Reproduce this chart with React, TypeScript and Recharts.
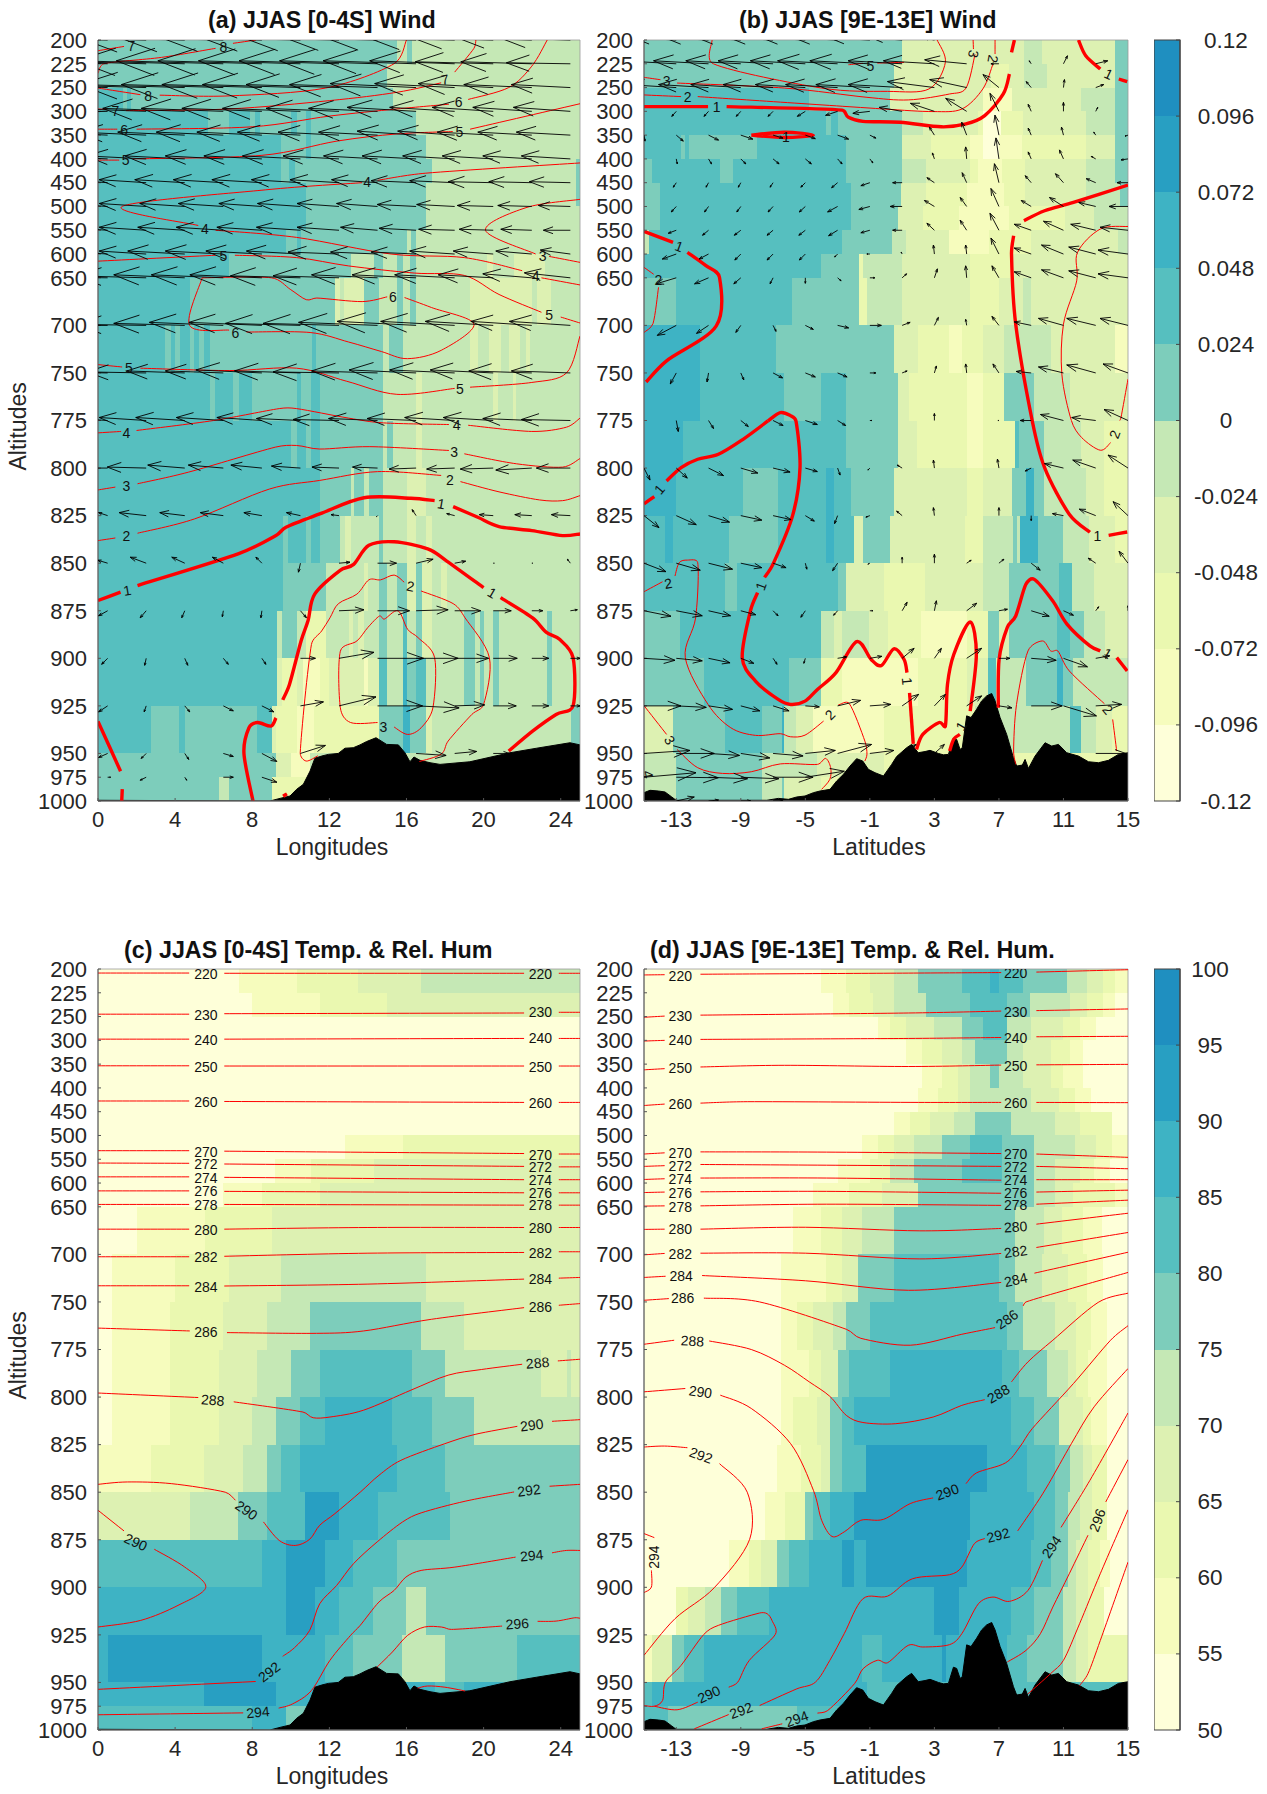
import { Area, ComposedChart, Line, ReferenceArea, Scatter, XAxis, YAxis } from 'recharts';

const FONT = '"Liberation Sans", Arial, sans-serif';
const palette = ['#feffd9', '#f6fcbd', '#eaf8b0', '#ddf1b2', '#c5e8b5', '#7dcdbb', '#56bfbf', '#3eb3c4', '#289fc2', '#1f8fc0'];

// pressure levels sit on an uneven index axis
const levels = [200, 225, 250, 300, 350, 400, 450, 500, 550, 600, 650, 700, 750, 775, 800, 825, 850, 875, 900, 925, 950, 975, 1000];
const levelPos = [0, 1, 2, 3, 4, 5, 6, 7, 8, 9, 10, 12, 14, 16, 18, 20, 22, 24, 26, 28, 30, 31, 32];

const lonTicks = [0, 4, 8, 12, 16, 20, 24];
const latTicks = [-13, -9, -5, -1, 3, 7, 11, 15];
const windBarLabels = ['-0.12', '-0.096', '-0.072', '-0.048', '-0.024', '0', '0.024', '0.048', '0.072', '0.096', '0.12'];
const humBarLabels = ['50', '55', '60', '65', '70', '75', '80', '85', '90', '95', '100'];

// shaded cells, one row per level band: xEnd, class, xEnd, class ...
const heatA = [
  [15.5, 5, 16.05, 4, 16.3, 5, 25, 4],
  [15, 5, 25, 4],
  [1.3, 6, 1.5, 5, 1.7, 6, 15.3, 5, 25, 4],
  [5.7, 6, 6.8, 5, 7.9, 6, 8.15, 5, 8.4, 6, 10, 5, 10.3, 6, 10.8, 5, 11.05, 6, 16.5, 5, 25, 4],
  [9.5, 6, 10.8, 5, 11.05, 6, 17, 5, 25, 4],
  [9.5, 6, 9.9, 5, 10.2, 6, 17.3, 5, 24.8, 4, 25, 5],
  [10.8, 6, 17, 5, 24.8, 4, 25, 5],
  [10.8, 6, 17, 5, 25, 4],
  [9.75, 6, 10.3, 5, 10.55, 6, 16.05, 5, 16.25, 4, 16.5, 5, 25, 4],
  [6.8, 6, 13.1, 5, 14.3, 4, 14.8, 5, 15.5, 4, 15.8, 5, 16.2, 4, 16.5, 5, 20.2, 4, 20.5, 3, 21.6, 4, 23.2, 3, 23.5, 4, 25, 4],
  [4.75, 6, 12.3, 5, 12.55, 3, 12.75, 4, 13.8, 3, 14.6, 5, 15.5, 4, 15.8, 5, 16.2, 4, 16.5, 5, 19.3, 4, 22.5, 3, 22.75, 4, 23.5, 3, 25, 4],
  [3.5, 6, 3.8, 5, 4, 6, 4.25, 5, 4.75, 6, 5, 5, 5.25, 6, 5.5, 5, 5.8, 6, 11.1, 5, 11.3, 6, 14.8, 5, 15.1, 4, 15.8, 5, 19.3, 4, 19.7, 3, 20.3, 4, 20.9, 3, 21.3, 4, 21.9, 3, 22.2, 4, 22.4, 3, 25, 4],
  [5.8, 6, 6.05, 5, 7, 6, 7.3, 5, 8, 6, 10.3, 5, 10.55, 6, 11.05, 5, 11.5, 6, 14.8, 5, 16.5, 4, 16.8, 3, 20.5, 4, 20.75, 3, 21.5, 4, 21.7, 3, 25, 4],
  [10, 6, 10.3, 5, 10.8, 6, 11.05, 5, 11.5, 6, 14.8, 5, 15, 4, 15.3, 5, 16.5, 4, 16.8, 3, 25, 4],
  [11.5, 6, 13.1, 5, 13.3, 4, 13.8, 5, 14.05, 4, 14.8, 5, 16.05, 4, 17, 3, 25, 4],
  [9.6, 6, 9.85, 5, 10.8, 6, 11.05, 5, 11.5, 6, 12.55, 5, 12.8, 4, 13.1, 3, 14.6, 4, 14.8, 5, 16.05, 4, 16.5, 3, 17, 4, 17.3, 3, 25, 4],
  [9.6, 6, 11.8, 5, 13.8, 4, 14, 3, 14.6, 4, 15, 5, 15.5, 4, 16.05, 5, 16.5, 3, 16.8, 5, 17.3, 3, 17.8, 4, 18.1, 3, 25, 4],
  [9.3, 6, 9.55, 4, 10.3, 5, 10.8, 4, 11.8, 2, 13, 4, 13.25, 3, 13.5, 4, 13.8, 3, 14.6, 4, 15, 5, 15.8, 4, 16.05, 6, 16.5, 4, 16.8, 5, 17.3, 3, 19, 4, 19.55, 5, 19.8, 4, 20, 5, 20.5, 4, 20.8, 5, 23.3, 4, 23.55, 5, 25, 4],
  [9.3, 6, 9.55, 3, 10.3, 2, 10.65, 3, 11.5, 1, 12, 2, 13.8, 3, 14, 1, 14.6, 3, 15, 6, 15.8, 4, 16.05, 7, 16.5, 5, 17, 6, 19, 4, 19.55, 5, 19.8, 4, 20, 5, 20.5, 4, 20.8, 5, 23.3, 4, 23.55, 5, 25, 4],
  [2.75, 6, 4.2, 5, 4.5, 6, 8.25, 5, 9, 6, 9.25, 3, 10.3, 2, 11.2, 1, 14.6, 2, 15.8, 5, 16.2, 7, 17, 5, 17.3, 3, 24.55, 4, 25, 5],
  [9.25, 5, 10, 3, 11, 1, 25, 4],
  [6.25, 5, 6.8, 4, 9, 5, 11, 2, 25, 4],
];
const heatB = [
  [1, 5, 8.55, 3, 9.7, 4, 14.2, 3, 15, 5],
  [0.5, 5, 6.5, 3, 7.6, 2, 8.55, 3, 10, 4, 14.2, 3, 15, 5],
  [-4.75, 6, 0.25, 5, 6, 3, 7.8, 1, 12.1, 3, 14.2, 4, 15, 5],
  [-3.7, 6, -3.4, 5, -3, 6, 1, 5, 2.3, 4, 5.7, 3, 6, 2, 7.1, 0, 8.5, 2, 12.4, 3, 14.2, 4, 15, 5],
  [-12.7, 6, -12.45, 5, -12.2, 6, -8, 5, -2.5, 6, 1, 5, 2.8, 3, 5.2, 2, 6, 1, 7, 0, 8.4, 1, 12.4, 2, 14.2, 3, 15, 5],
  [-14.5, 5, -10.3, 6, -9.5, 5, -2.5, 6, 1, 5, 2.5, 4, 5.2, 3, 5.7, 2, 7.2, 1, 8.6, 2, 12.4, 3, 14.2, 4, 15, 5],
  [-14, 5, -2.2, 6, 0.9, 5, 2.5, 3, 5, 2, 7.3, 1, 8.6, 2, 12.4, 3, 14.5, 4, 15, 5],
  [-14, 5, -2.2, 6, 0.75, 5, 2.3, 3, 4.5, 2, 7.65, 1, 11.1, 2, 12.9, 3, 15, 4],
  [-14.7, 4, -2.7, 6, 0.35, 5, 1.25, 4, 3.9, 3, 6.4, 1, 9, 2, 14.4, 3, 15, 4],
  [-4, 6, -1.7, 5, -1.4, 2, 1, 4, 5.2, 3, 7.8, 2, 15, 3],
  [-13, 5, -5.8, 6, -1.7, 5, -1.2, 2, 1, 4, 5.2, 3, 7, 2, 8.5, 3, 9, 4, 15, 3],
  [-11.55, 7, -6.8, 6, 0.5, 5, 2, 3, 3.9, 2, 4.7, 1, 6, 2, 7.3, 3, 10.2, 4, 14.2, 3, 15, 1],
  [-11.5, 7, -6.3, 6, -4, 5, -2.5, 6, 0.75, 5, 1.4, 3, 5, 2, 6, 1, 7.3, 2, 9.2, 5, 11.4, 4, 15, 3],
  [-12.6, 7, -2.45, 6, 0.75, 5, 1.9, 3, 5, 2, 6, 1, 8, 2, 8.25, 6, 9.8, 5, 12.1, 4, 13.5, 3, 15, 2],
  [-13, 7, -8.85, 6, -6.7, 5, -3.7, 6, -3.2, 7, -2.2, 6, 0.5, 5, 5, 3, 6, 2, 7.8, 3, 8.7, 5, 9.2, 7, 9.8, 5, 12.4, 4, 13.5, 3, 15, 2],
  [-13.7, 6, -13.2, 7, -9.75, 6, -6.7, 5, -3.7, 6, -3.2, 7, -2, 6, -1.4, 3, 0.23, 5, 4.9, 3, 6, 2, 7.9, 4, 8.15, 5, 8.3, 4, 9.45, 7, 11, 5, 12.6, 4, 14.2, 3, 15, 2],
  [-10, 6, -9.25, 5, -3, 6, -2.5, 5, -0.15, 3, 2.4, 2, 6, 3, 7.65, 4, 10.7, 5, 11.5, 6, 12.9, 4, 15, 3],
  [-12.75, 5, -4, 6, -3.2, 4, -2.7, 3, -1.05, 4, 0.1, 3, 2.15, 2, 5, 1, 6.3, 2, 7, 5, 7.65, 3, 10.6, 5, 11.4, 6, 12.3, 5, 13.6, 4, 15, 3],
  [-11.3, 5, -6, 6, -4, 5, -2.7, 2, 2, 1, 5, 2, 6.3, 3, 6.8, 6, 7, 3, 8.7, 4, 10.6, 5, 11, 7, 11.6, 5, 15, 4],
  [-13.2, 3, -10, 5, -7.7, 6, -6.45, 5, -6.3, 7, -5.6, 4, -4.5, 3, -0.15, 1, 5.5, 2, 11.4, 4, 12.1, 6, 13, 4, 14, 3, 15, 2],
  [-13, 4, -7.7, 5, -4.25, 4, -0.15, 3, 15, 2],
  [-13, 4, -7.7, 5, -6.45, 4, -6.3, 5, -4, 3, 15, 2],
];
const heatC = [
  [7.3, 0, 10.3, 1, 13.5, 2, 16.75, 3, 25, 4],
  [8, 0, 11.5, 1, 15, 2, 25, 3],
  [25, 0],
  [25, 0],
  [25, 0],
  [25, 0],
  [25, 0],
  [12.8, 0, 15.8, 1, 25, 2],
  [9.2, 0, 11.05, 1, 14.3, 2, 25, 3],
  [6.5, 0, 8.5, 1, 11.5, 2, 25, 3],
  [2, 0, 5.55, 1, 9.05, 2, 25, 3],
  [0.75, 0, 4, 1, 6.8, 2, 9.5, 3, 17, 4, 25, 3],
  [0.75, 0, 3.75, 1, 6.5, 2, 8.75, 3, 11, 4, 16.75, 5, 19, 4, 25, 3],
  [0.75, 0, 3.75, 1, 6.25, 2, 8.25, 3, 10, 4, 11.5, 5, 16.3, 6, 18, 5, 23, 4, 24.3, 3, 24.55, 4, 25, 3],
  [0.75, 0, 3.75, 1, 6.25, 2, 8, 3, 9.25, 4, 10.5, 5, 11.75, 6, 15.25, 7, 17.3, 6, 19.5, 5, 25, 4],
  [2.75, 1, 5.5, 2, 7.5, 3, 8.75, 4, 9.5, 5, 10.5, 6, 15.5, 7, 18, 6, 25, 5],
  [4.75, 3, 7.25, 4, 8.75, 5, 10.75, 6, 12.5, 8, 14.5, 7, 18.25, 6, 25, 5],
  [8.5, 6, 9.75, 7, 11.75, 8, 13.25, 7, 15.5, 6, 25, 5],
  [9.75, 7, 11.25, 8, 12.5, 7, 14.25, 6, 16, 5, 17, 4, 25, 5],
  [0.5, 7, 8.5, 8, 11.75, 7, 13.25, 6, 15.75, 5, 18, 4, 21.75, 5, 25, 6],
  [5.5, 7, 9.25, 8, 17.5, 7, 19, 6, 21, 7, 25, 6],
  [8, 6, 9.75, 7, 25, 5],
];
const heatD = [
  [-4, 0, -2.5, 1, -1, 2, 0.5, 3, 2, 4, 4.7, 5, 6.45, 6, 7, 7, 8.5, 6, 11.2, 5, 12.45, 4, 13.45, 3, 14.2, 2, 15, 1],
  [-3.3, 0, -2.3, 1, -0.8, 2, 0.5, 3, 2.5, 4, 5.2, 5, 7.5, 6, 8.9, 5, 11.4, 4, 12.45, 3, 13.45, 2, 14.2, 1, 15, 0],
  [-0.5, 0, 0.25, 1, 1.25, 2, 3, 3, 4.7, 4, 6, 5, 7.5, 6, 9, 4, 11, 3, 12, 2, 13, 1, 15, 0],
  [1.25, 0, 2.25, 1, 3.5, 2, 4.7, 3, 5.5, 4, 7.5, 5, 8.5, 4, 10.2, 3, 11.4, 2, 12.2, 1, 15, 0],
  [2.25, 0, 3.5, 1, 4.45, 2, 5.2, 3, 6.45, 4, 7, 5, 8.5, 4, 10.2, 3, 11, 2, 12.2, 1, 15, 0],
  [2, 0, 3.25, 1, 4.45, 2, 5.2, 3, 9, 4, 10.7, 3, 11.7, 2, 12.7, 1, 15, 0],
  [0.5, 0, 1.5, 1, 2.75, 2, 4.2, 3, 5.5, 4, 7.75, 5, 10.45, 4, 12, 3, 14, 2, 15, 0],
  [-1.5, 0, -0.5, 1, 0.5, 2, 1.75, 3, 3.5, 4, 5.2, 5, 7.2, 6, 9.2, 5, 11.7, 4, 13, 3, 14, 2, 15, 1],
  [-3, 0, -1, 1, 0.25, 2, 1.75, 4, 4.7, 5, 7.2, 6, 9.2, 5, 10.45, 4, 12, 3, 12.9, 2, 13.9, 1, 15, 0],
  [-4.5, 0, -2.3, 1, -0.25, 2, 2, 3, 9.2, 5, 10.45, 4, 11.6, 3, 14.2, 2, 15, 1],
  [-5.75, 0, -4, 1, -2.75, 2, -1.5, 3, 0.5, 4, 8, 5, 9.8, 4, 10.9, 3, 12.2, 2, 13.4, 1, 15, 0],
  [-6.5, 0, -3.75, 1, -2.75, 2, -1.75, 3, 0.5, 5, 7, 6, 8, 5, 9.7, 4, 11.25, 3, 12.45, 2, 13.45, 1, 15, 0],
  [-6.5, 0, -5.5, 1, -4.5, 2, -3.3, 3, -2.5, 4, -1, 5, 7.5, 6, 8.5, 5, 10.45, 4, 11.75, 3, 12.7, 2, 13.7, 1, 15, 0],
  [-6.5, 0, -4.75, 1, -4, 2, -3, 3, -2.3, 5, 0.25, 6, 7.2, 7, 8.25, 6, 10, 5, 11.25, 4, 11.75, 3, 12.5, 2, 13.7, 1, 15, 0],
  [-6.5, 0, -5.75, 1, -4.25, 2, -3.5, 3, -2.75, 5, -2, 6, 7.75, 7, 9.2, 6, 10.7, 5, 12.2, 3, 12.7, 2, 13.7, 1, 15, 0],
  [-6.75, 0, -5.25, 1, -4, 2, -3.5, 3, -2.75, 5, -1.25, 6, 6.25, 8, 8.75, 7, 10.45, 6, 11.4, 5, 12.2, 4, 12.75, 3, 13.7, 2, 15, 0],
  [-7.5, 0, -6.25, 1, -5, 2, -4.5, 5, -3.5, 6, -2, 7, 5.2, 8, 9.2, 7, 10.45, 6, 11.25, 5, 12, 4, 12.75, 3, 13.7, 2, 15, 0],
  [-9.75, 0, -8.5, 1, -7.75, 2, -6.75, 3, -6, 5, -4.75, 6, -2.75, 7, -2, 8, -1.25, 7, 5, 8, 9, 7, 10.2, 6, 11.25, 5, 11.75, 4, 12.5, 3, 13.25, 2, 13.9, 1, 15, 0],
  [-13, 0, -12.25, 2, -11.25, 3, -10.25, 4, -9.25, 5, -7.25, 6, 3, 7, 4.5, 8, 7.75, 7, 9.2, 6, 11, 5, 11.75, 4, 12.5, 3, 13.5, 2, 15, 0],
  [-14.5, 1, -13.25, 3, -12.5, 5, -11.25, 6, -1.5, 7, -0.25, 6, 3.5, 7, 3.7, 8, 7.5, 7, 8.75, 6, 11, 5, 11.75, 4, 12.5, 3, 15, 2],
  [-14.5, 6, -13.5, 7, -1.2, 7, 15, 6],
  [-13.5, 6, -5.5, 5, 15, 6],
];

// ground profile, level position per longitude / latitude
const terrainLonX = [0, 8.92, 9.44, 9.96, 10.3, 10.65, 11, 11.25, 11.6, 11.95, 12.46, 12.81, 13.24, 13.59, 13.93, 14.42, 14.97, 15.58, 15.92, 16.18, 16.39, 16.7, 17.22, 17.74, 19.29, 21.37, 22.75, 24.48, 25];
const terrainLonY = [31.97, 32, 31.89, 31.79, 31.51, 31.3, 30.74, 30.2, 30.11, 30.04, 30, 29.78, 29.76, 29.64, 29.5, 29.34, 29.62, 29.64, 29.97, 30.35, 30.15, 30.29, 30.39, 30.46, 30.35, 29.97, 29.78, 29.55, 29.64];
const terrainLatX = [-15, -14.63, -14.11, -13.7, -13.28, -13.01, -7.39, -6.67, -6.05, -5.53, -5.02, -4.5, -4.09, -3.47, -3.06, -2.64, -2.23, -1.82, -1.44, -1.09, -0.68, -0.16, 0.35, 0.66, 1.28, 1.59, 2, 2.42, 2.73, 3.25, 3.56, 3.87, 4.18, 4.38, 4.59, 4.73, 5, 5.27, 5.62, 5.93, 6.24, 6.55, 6.76, 7.07, 7.48, 7.9, 8.1, 8.45, 8.62, 8.83, 9.24, 9.86, 10.27, 10.69, 11.2, 11.93, 12.55, 13.17, 13.79, 14.41, 15];
const terrainLatY = [31.65, 31.55, 31.58, 31.62, 31.83, 31.97, 31.97, 31.89, 31.93, 31.83, 31.79, 31.65, 31.58, 31.51, 31.16, 30.88, 30.53, 30.22, 30.32, 30.67, 30.81, 30.95, 30.46, 30.13, 29.76, 29.62, 29.97, 29.92, 29.87, 30, 30.06, 30.04, 29.36, 29.41, 29.83, 29.76, 28.42, 28.49, 28.14, 27.79, 27.58, 27.48, 27.79, 28.49, 29.2, 30.18, 30.53, 30.49, 30.25, 30.63, 30.11, 29.55, 29.69, 29.62, 29.97, 30.11, 30.35, 30.39, 30.29, 30.04, 29.97];

// contour runs, flat x,y pairs
const thinA = [
  [0, 0.45, 1.35, 0.27], [0, 1.4, 0.3, 1, 3.3, 0.73, 6.1, 0.35], [7, 0.14, 8.2, 0],
  [0, 2.02, 2.2, 2.3], [3.2, 2.32, 6.8, 2.35, 11.8, 2.02, 15.35, 1, 16, 0],
  [0, 2.9, 0.45, 2.92], [1.45, 2.97, 6.8, 2.9, 12, 2.55, 15.5, 2.2, 17.8, 1.8], [18.5, 1.35, 19.5, 0.35, 19.6, 0],
  [0, 3.75, 1, 3.75], [2, 3.75, 8, 3.65, 12, 3.2, 15.5, 2.9, 18.2, 2.7], [19.2, 2.5, 21.3, 2, 22.5, 1.1, 23.3, 0],
  [0, 5.05, 1.1, 5.05], [1.8, 5, 8.5, 4.85, 12.4, 4.25, 15.5, 3.95, 18.4, 3.85], [19.3, 3.75, 25, 2.68],
  [14.5, 5.9, 17, 5.6, 25, 5.17], [13.7, 6, 8.7, 6.3, 1.25, 7, 5.2, 7.8], [6.1, 8, 10.3, 8.3, 15.2, 9, 19, 9.15, 22, 9.7], [23, 10, 25, 10.3],
  [25, 6.7, 22.2, 7.05, 20.1, 8, 22.7, 9], [23.4, 9.1, 25, 9.35],
  [0, 9.3, 6.1, 9.05], [7.1, 9.05, 10.3, 9.15, 13, 9.5, 16.4, 9.8, 19, 9.9, 20.8, 10.7, 23, 11.45], [24, 11.65, 25, 11.9],
  [5.4, 10, 9, 10, 10, 10.5, 10.8, 10.92, 11.35, 10.85, 13.7, 11, 15, 10.8],
  [15.9, 10.83, 17.3, 11.25, 19.5, 11.95, 17.8, 13.05, 16.05, 13.4, 14.7, 13.1, 13, 12.7, 11, 12.3, 7.7, 12.28], [6.8, 12.2, 4.75, 12, 5.4, 10],
  [0, 13.65, 1.25, 13.75], [2.2, 13.8, 6.8, 13.9, 10.3, 13.8, 12.9, 14.35, 15.5, 14.9, 18.5, 14.65], [19.3, 14.6, 22.5, 14.4, 24.3, 14, 25, 12.45],
  [0, 16.52, 1.2, 16.46], [2, 16.42, 6, 16, 9.4, 15.5, 10.3, 15.5, 13, 15.9, 14.8, 16.1, 18.2, 16.17], [19.2, 16.2, 22.5, 16.46, 24.3, 16.28, 25, 15.9],
  [0, 18.92, 0.9, 18.8], [2.05, 18.66, 4.7, 18.17, 9.2, 17.12, 10.3, 17.05, 11.5, 17.2, 14.1, 17.1, 18.2, 17.26], [19, 17.4, 21.7, 17.82, 24.1, 17.96, 25, 17.6],
  [0, 21.05, 0.9, 20.94], [2.05, 20.74, 5, 20.14, 8.9, 18.88, 11.5, 18.52, 14.5, 18.15, 17.8, 18.31], [18.8, 18.57, 20.8, 19, 22.9, 19.34, 24.1, 19.37, 25, 19.16],
  [15.88, 22.8, 15.36, 22.5, 14.66, 22.7, 14.05, 22.7, 13.43, 23.3, 12.47, 23.7, 12.03, 24.3, 11.6, 24.85, 11.07, 25.42, 10.49, 29.97, 10.8, 30.32, 11.4, 30.1],
  [16.76, 23.17, 18.42, 23.7, 19.04, 24.3, 20.3, 25.97, 20, 27.94, 19.39, 28.36, 18.16, 29.48, 17.8, 30.03, 16.67, 30.34],
  [14.5, 28.7, 13.1, 28.7, 12.57, 28.08, 12.57, 25.7, 13.43, 25.27, 14, 24.7, 14.6, 24.22, 14.85, 24.35, 15.56, 24, 16.06, 24.78, 16.6, 25.13, 17.46, 25.97, 17.37, 28.08, 16.76, 28.92, 16.06, 29.2, 15.36, 28.89],
];
const thickA = [
  [0, 23.57, 1.17, 23.22], [2.05, 22.94, 7.3, 21.6, 9.23, 20.84, 9.75, 20.49, 11.5, 19.93, 13.8, 19.25, 16.23, 19.27, 17.46, 19.37],
  [18.42, 19.62, 19.7, 20.07, 20.8, 20.46, 22.5, 20.63, 24.1, 20.84, 25, 20.77],
  [9.58, 27.75, 9.93, 27.1, 10.54, 25.25, 10.9, 24.4, 11.24, 23.3, 12.56, 22.3, 13.26, 22.05, 14.05, 21.25, 15.36, 21.1, 17.1, 21.4, 18.07, 21.9, 20, 23.03],
  [20.88, 23.45, 22.54, 24.3, 23.24, 24.9, 23.94, 25.2, 24.64, 25.97, 24.64, 28, 23.76, 28.36, 22.54, 29.06, 21.3, 29.9],
  [9.23, 28.5, 8.97, 28.85, 8.27, 28.7, 7.83, 28.92, 7.57, 30, 8.04, 32],
  [0, 28.65, 1.17, 30.75], [1.26, 31.5, 1.23, 32], [9.6, 31.8, 9.8, 31.7],
];
const thinB = [
  [-10.78, 0, -10.7, 1, -4, 2.02, 0.1, 2.16, 2.66, 2.06, 3.68, 0.94, 3.17, 0],
  [-2.33, 1.04, -1.43, 0.98], [-0.54, 0.97, 1.12, 0.94],
  [-15, 1.57, -13.98, 1.67], [-12.95, 1.81, -6.3, 2.02, -1.18, 2.41, 1.38, 2.52, 3.94, 2.27, 4.96, 2.02, 5.52, 0.6], [5.42, 0.38, 5.4, 0],
  [-15, 2.31, -12.7, 2.38], [-11.67, 2.38, -0.15, 2.9, 2.92, 3.01, 4.71, 2.9, 6, 2.06, 6.63, 1.01], [6.76, 0.59, 6.76, 0],
  [-15, 9.56, -14.4, 9.85], [-14.1, 10.4, -14.44, 11.92, -15, 12.3],
  [15, 7.84, 13.28, 7.95, 11.87, 8.93, 11.82, 10.13, 11, 11.95, 10.9, 14.05, 11.49, 16, 12.13, 16.72, 13.28, 17.25, 13.92, 16.93], [14.49, 16, 14.56, 15.9, 15, 14.26],
  [-15, 23.2, -13.85, 22.78], [-13.08, 22.54, -12.82, 21.98, -12.31, 21.87, -11.67, 21.98, -11.8, 24.29, -12.44, 25.97, -11.03, 27.94, -9.62, 28.92, -8.09, 29.24, -6.55, 29.17, -5.91, 29.3, -5.02, 29.23, -3.87, 28.64],
  [-2.97, 27.97, -2.28, 27.9, -1.31, 29.48, -1.18, 30.03, -1.31, 30.32],
  [-15, 27.99, -13.6, 29.2], [-12.95, 29.83, -11.67, 30.6, -10.14, 30.84, -8.35, 30.77, -6.55, 30.44, -4.25, 30.46, -3.74, 30.21, -3.43, 30.6, -3.48, 31.09, -3.99, 31.51],
  [8.04, 30.46, 7.91, 29.9, 8.09, 27.94, 8.8, 25.69, 9.7, 25.27, 10.21, 25.69, 10.65, 25.69, 11.36, 26.53, 13.54, 27.91], [14.05, 28.57, 14.3, 29.9],
];
const thickB = [
  [-15, 2.8, -11.03, 2.8], [-9.88, 2.8, -2.71, 2.95, -2.33, 3.25, -1.43, 3.42, 0.87, 3.46, 3.43, 3.65, 4.96, 3.53, 6.12, 3.18, 7.27, 2.27, 7.65, 1.43], [7.78, 0.52, 7.96, 0],
  [11.93, 0, 12.38, 0.66, 13.28, 1.22], [14.43, 1.64, 14.95, 1.75],
  [-8.35, 4, -6.3, 3.88, -4.5, 4, -6.3, 4.1, -8.35, 4],
  [-15, 8.05, -13.2, 8.51], [-12.31, 8.93, -11.16, 9.49, -10.32, 9.99, -10.52, 12.02, -13.6, 13.49, -14.87, 14.38],
  [-7.32, 16.02, -6.55, 15.67, -5.91, 15.8, -5.58, 16.02, -5.33, 17.98, -5.79, 20, -7.01, 22.05, -7.53, 22.6],
  [-7.32, 16.02, -8.86, 16.79, -10.39, 17.42, -11.67, 17.63, -12.7, 17.98, -13.6, 18.54], [-14.36, 19.2, -15, 19.5],
  [-7.96, 23.24, -8.4, 24, -8.91, 25.98, -8.09, 26.96, -6.68, 27.73, -5.91, 27.94, -5.02, 27.8, -4.25, 27.31, -3.1, 26.6, -1.82, 25.3, -0.92, 26.05, -0.28, 26.3, 0.49, 25.6, 1.12, 26.05, 1.3, 26.6],
  [1.46, 27.45, 1.69, 29.6], [1.89, 29.83, 2.28, 29.2, 3.3, 28.7, 3.68, 28.85, 3.81, 27.1, 4.2, 25.84, 5.22, 24.47, 5.6, 25.84, 5.22, 28.22], [3.94, 29.9, 4.2, 29.4, 4.58, 29.2],
  [6.96, 28.08, 7.01, 26.05, 7.52, 24.7, 8.04, 24.22, 8.67, 22.89, 9.19, 22.68, 10.34, 23.59, 11.23, 24.57, 12.64, 25.48, 13.28, 25.69], [14.3, 25.97, 14.95, 26.53],
  [15, 6.1, 11.62, 6.83, 9.83, 7.18, 8.55, 7.6], [7.91, 8.23, 7.78, 9, 8.04, 11.95, 9.06, 16, 9.83, 17.98, 11.36, 19.94, 12.64, 20.7], [13.8, 20.83, 14.95, 20.69],
];
const thinC = [
  [0, 0.17, 4.73, 0.17], [6.55, 0.18, 22.1, 0.18], [23.9, 0.18, 25, 0.18],
  [0, 1.9, 4.73, 1.9], [6.55, 1.88, 22.1, 1.85], [23.9, 1.82, 25, 1.82],
  [0, 2.95, 4.73, 2.95], [6.55, 2.95, 22.1, 2.92], [23.9, 2.92, 25, 2.92],
  [0, 4.07, 4.73, 4.07], [6.55, 4.08, 22.1, 4.08], [23.9, 4.08, 25, 4.08],
  [0, 5.55, 4.73, 5.55], [6.55, 5.57, 22.1, 5.61], [23.9, 5.61, 25, 5.61],
  [0, 7.64, 4.73, 7.64], [6.55, 7.66, 22.1, 7.76], [23.9, 7.78, 25, 7.78],
  [0, 8.16, 4.73, 8.17], [6.55, 8.2, 22.1, 8.3], [23.9, 8.32, 25, 8.32],
  [0, 8.74, 4.73, 8.74], [6.55, 8.76, 22.1, 8.86], [23.9, 8.86, 25, 8.86],
  [0, 9.33, 4.73, 9.33], [6.55, 9.35, 22.1, 9.41], [23.9, 9.41, 25, 9.41],
  [0, 9.9, 4.73, 9.9], [6.55, 9.9, 22.1, 9.93], [23.9, 9.93, 25, 9.93],
  [0, 10.94, 4.73, 10.94], [6.55, 10.94, 14, 10.87, 22.1, 10.87], [23.9, 10.87, 25, 10.87],
  [0, 12.1, 4.73, 12.1], [6.55, 12.08, 14, 11.95, 22.1, 11.92], [23.9, 11.89, 25, 11.89],
  [0, 13.32, 4.73, 13.32], [6.55, 13.33, 14, 13.25, 22.1, 13.04], [23.9, 13, 25, 12.97],
  [0, 15.1, 4.76, 15.22], [6.69, 15.29, 11.33, 15.32, 13.78, 15.22, 17.29, 14.73, 22.1, 14.24], [23.9, 14.14, 25, 14.07],
  [0, 17.83, 5.2, 18.02], [7.04, 18.2, 10.63, 18.63, 11.16, 18.87, 12.03, 18.84, 13.78, 18.55, 16.23, 17.71, 18.16, 17.08, 19.9, 16.84, 22, 16.62], [23.85, 16.48, 25, 16.41],
  [0, 21.67, 1.52, 21.57, 3.8, 21.64, 6.6, 22, 7.13, 22.34], [8.58, 23.25, 9.4, 24.03, 10.23, 24.24, 10.98, 23.98, 11.5, 23.39, 12.29, 22.9, 13.6, 22, 14.57, 21.29, 15.71, 20.66, 17.99, 19.96, 19.56, 19.57, 21.75, 19.23], [23.55, 19.02, 25, 18.95],
  [0, 22.76, 1.35, 23.63], [2.92, 24.4, 4.5, 25.15, 5.59, 26, 4.15, 26.76, 2.22, 27.39, 0, 27.67],
  [0, 30.29, 8.18, 29.96], [9.58, 28.9, 10.19, 28.54, 10.98, 27.81, 11.5, 26.69, 12.38, 25.92, 13.26, 25, 14.48, 24.09, 15.8, 23.25, 16.76, 22.87, 19.04, 22.38, 21.58, 21.99], [23.42, 21.75, 25, 21.67],
  [0, 31.36, 7.53, 31.28], [9.37, 31.08, 10.1, 30.9, 11.07, 30.34, 12.03, 29.07, 13.1, 28.02, 13.6, 27.6, 14.57, 26.62, 15.36, 26.13, 15.97, 25.57, 16.76, 25.29, 18.51, 25.15, 21.66, 24.73], [23.55, 24.55, 24.29, 24.45, 25, 24.45],
  [14.48, 29.35, 15.27, 28.72, 16.06, 28.02, 16.93, 27.67, 17.81, 27.67, 18.33, 27.77, 20.96, 27.63], [22.8, 27.43, 23.76, 27.42, 24.73, 27.28, 25, 27.3],
  [16.58, 30.24, 17.1, 30.15, 17.99, 30.2, 19.04, 30.36],
];
const thinD = [
  [-15, 0.25, -13.72, 0.24], [-11.5, 0.22, 2, 0.17, 7.14, 0.15], [9.32, 0.13, 15, 0.03],
  [-15, 2.03, -13.72, 1.98], [-11.5, 1.94, 1.4, 1.85, 7.14, 1.77], [9.32, 1.75, 15, 1.68],
  [-15, 3.03, -13.72, 3], [-11.5, 2.96, 1.4, 2.92, 7.14, 2.88], [9.32, 2.85, 15, 2.83],
  [-15, 4.24, -13.72, 4.19], [-11.5, 4.12, -6.3, 4.05, 1.4, 4.1, 7.14, 4.04], [9.32, 4.03, 15, 4.01],
  [-15, 5.74, -13.72, 5.68], [-11.5, 5.64, -8.6, 5.58, 2, 5.61, 7.14, 5.61], [9.32, 5.61, 15, 5.62],
  [-15, 7.78, -13.72, 7.73], [-11.5, 7.69, -3.7, 7.7, 7.14, 7.76], [9.32, 7.78, 15, 7.92],
  [-15, 8.3, -13.72, 8.27], [-11.5, 8.22, -3.7, 8.25, 7.14, 8.3], [9.32, 8.3, 15, 8.4],
  [-15, 8.85, -13.72, 8.82], [-11.5, 8.79, -3.7, 8.79, 7.14, 8.88], [9.32, 8.86, 15, 8.86],
  [-15, 9.4, -13.72, 9.38], [-11.5, 9.37, -3.7, 9.35, 7.14, 9.43], [9.32, 9.38, 15, 9.3],
  [-15, 9.97, -13.72, 9.96], [-11.5, 9.96, -3.7, 9.89, 7.14, 9.94], [9.32, 9.89, 15, 9.72],
  [-15, 10.95, -13.72, 10.94], [-11.5, 10.94, -5, 10.86, 2.1, 11.01, 7.14, 10.91], [9.32, 10.73, 15, 10.27],
  [-15, 12.02, -13.72, 11.96], [-11.5, 11.95, -5, 11.95, 2.1, 12.19, 7.14, 11.96], [9.32, 11.71, 15, 11.08],
  [-15, 12.97, -13.66, 12.92], [-11.4, 12.89, -5, 13.11, 1.4, 13.51, 7.14, 13.18], [9.2, 12.79, 15, 11.91],
  [-15, 13.93, -13.46, 13.86], [-11.29, 13.84, -7.83, 14, -2.46, 15.15, -1.56, 15.53, 1.5, 15.82, 4.7, 15.36, 6.76, 15.08], [8.5, 14.17, 8.68, 14, 11.36, 13.46, 15, 12.76],
  [-15, 15.78, -13.13, 15.61], [-10.96, 15.64, -8.35, 16, -6.3, 16.66, -4.76, 17.36, -3.48, 17.97, -2.46, 18.77, -1.43, 19.07, 0.61, 19.12, 2.92, 18.84, 4.7, 18.35, 6.12, 18.11],
  [7.78, 17.36, 8.8, 16.52, 10.34, 15.61, 13.15, 14.02, 15, 13.63],
  [-15, 17.78, -12.44, 17.64], [-10.27, 17.92, -8.35, 18.48, -5.91, 19.96, -4.5, 21.92, -3.99, 23.18, -3.35, 23.86, -2.59, 23.67, -1.56, 23.18, -0.15, 23.14, 1.5, 22.48, 2.92, 22.24],
  [4.96, 21.64, 5.6, 21.19, 7.4, 20.77, 8.29, 20.1, 9.06, 19.33, 11.62, 17.43, 13.92, 15.61, 15, 15],
  [-15, 20.1, -13.72, 20.06, -12.31, 20.13], [-10.32, 20.8, -8.6, 22, -8.45, 23.98, -10.65, 26.02, -13.08, 27.32, -15, 28.86],
  [-15, 23.74, -14.36, 23.91], [-14.54, 25.29, -14.54, 25.99, -15, 26.22],
  [-9.75, 30.2, -9.19, 29.99, -8.47, 29.07, -6.86, 27.98, -7.07, 27.39, -7.37, 27.11, -7.83, 27.08, -10.39, 27.6, -11.29, 27.98, -12.7, 29.28, -13.67, 29.99, -13.85, 30.76, -14.36, 31, -15, 30.97],
  [-14.36, 31, -12.95, 31.15, -11.67, 30.83],
  [-11.88, 31.95, -9.75, 31.35], [-7.83, 30.97, -5.53, 30.27, -4.38, 29.99, -3.48, 29.07, -2.59, 27.95, -1.43, 26.48, 0.1, 26.37, 1.64, 25.64, 3.94, 25.47, 4.7, 25.15, 5.48, 24.16, 6.12, 23.95],
  [8.16, 23.63, 9.32, 22.48, 10.09, 21.64, 11.49, 19.96, 12.9, 18.41, 15, 16.8],
  [-7.7, 31.95, -6.43, 31.74], [-4.25, 31.29, -3.61, 31.18, -1.95, 30.05, -1.43, 29.43, -0.54, 29.07, 0.1, 29.17, 1.38, 28.44, 2.28, 28.51, 3.94, 28.41, 4.7, 27.95, 5.73, 26.69, 6.63, 26.41, 7.65, 26.59, 8.8, 26.13, 9.7, 24.87],
  [10.85, 23.48, 12.64, 21.5, 15, 18.67],
  [7.52, 29.14, 8.68, 28.65, 9.57, 27.95, 10.34, 26.83, 11.36, 25.43, 12.52, 23.81], [13.62, 22.41, 15, 20.63],
  [8.8, 30.48, 10.2, 29.63, 11, 29.07, 12, 27.53, 13.28, 25.43, 15, 22.74],
  [12, 30.13, 12.52, 29.63, 13.28, 28.24, 15, 24.94],
];

// contour labels: text, x, level position, rotation
const labelsA: [string, number, number, number][] = [
  ['7', 1.73, 0.24, 0], ['8', 6.5, 0.28, 0], ['8', 2.6, 2.37, 0], ['7', 18, 1.67, -10], ['7', 0.9, 2.97, 0], ['6', 18.7, 2.62, 0],
  ['6', 1.35, 3.77, 0], ['5', 18.74, 3.86, 0], ['5', 1.44, 5.03, 0], ['4', 13.96, 5.99, 0], ['4', 5.55, 7.95, 0], ['5', 6.5, 9.07, 0],
  ['3', 23.06, 9.07, 0], ['4', 22.7, 9.92, 0], ['6', 15.3, 10.8, 0], ['5', 23.4, 11.57, 0], ['6', 7.13, 12.3, 0], ['5', 1.6, 13.8, 0],
  ['5', 18.77, 14.66, 0], ['4', 1.47, 16.52, 0], ['4', 18.6, 16.2, 0], ['3', 1.47, 18.76, 0], ['3', 18.47, 17.33, 0], ['2', 1.47, 20.87, 0],
  ['2', 18.25, 18.5, 0], ['1', 1.52, 23.14, -10], ['1', 17.8, 19.5, 10], ['1', 20.44, 23.25, 30], ['2', 16.2, 22.97, 10], ['3', 14.8, 28.9, 0],
];
const labelsB: [string, number, number, number][] = [
  ['5', -0.97, 1.08, 0], ['3', -13.6, 1.74, 0], ['2', -12.3, 2.38, 0], ['1', -10.5, 2.8, 0], ['3', 5.42, 0.59, 100], ['2', 6.63, 0.8, 100],
  ['1', -6.2, 4.07, 0], ['1', 13.8, 1.43, 25], ['1', -12.83, 8.68, 20], ['2', -14.1, 10.1, 0], ['1', -14.05, 18.89, -50], ['1', -7.76, 22.96, -70],
  ['2', -13.5, 22.85, -10], ['1', 1.3, 26.96, 85], ['2', -3.48, 28.37, -45], ['3', -13.41, 29.44, 60], ['4', -14.75, 30.88, 80], ['1', 13.1, 20.85, 0],
  ['1', 13.72, 25.79, 30], ['2', 13.75, 28.15, 50], ['2', 14.18, 16.58, -70], ['1', 4.66, 28.85, -60],
];
const labelsC: [string, number, number, number][] = [
  ['220', 5.6, 0.2, 0], ['220', 22.95, 0.2, 0], ['230', 5.6, 1.92, 0], ['230', 22.95, 1.82, 0], ['240', 5.6, 2.98, 0], ['240', 22.95, 2.92, 0],
  ['250', 5.6, 4.1, 0], ['250', 22.95, 4.1, 0], ['260', 5.6, 5.6, 0], ['260', 22.95, 5.64, 0], ['270', 5.6, 7.7, 0], ['270', 22.95, 7.82, 0],
  ['272', 5.6, 8.2, 0], ['272', 22.95, 8.32, 0], ['274', 5.6, 8.78, 0], ['274', 22.95, 8.88, 0], ['276', 5.6, 9.33, 0], ['276', 22.95, 9.42, 0],
  ['278', 5.6, 9.93, 0], ['278', 22.95, 9.93, 0], ['280', 5.6, 10.97, 0], ['280', 22.95, 10.88, 0], ['282', 5.6, 12.1, 0], ['282', 22.95, 11.93, 0],
  ['284', 5.6, 13.37, 0], ['284', 22.95, 13.04, 0], ['286', 5.6, 15.26, 0], ['286', 22.95, 14.21, 0], ['288', 5.95, 18.13, 4], ['288', 22.8, 16.56, -5],
  ['290', 7.7, 22.76, 35], ['290', 22.5, 19.18, -7], ['290', 1.96, 24.1, 25], ['292', 8.88, 29.56, -38], ['292', 22.36, 21.92, -7], ['294', 8.3, 31.25, -5],
  ['294', 22.5, 24.66, -5], ['296', 21.75, 27.53, -4],
];
const labelsD: [string, number, number, number][] = [
  ['220', -12.75, 0.28, 0], ['220', 8.04, 0.18, 0], ['230', -12.75, 1.99, 0], ['230', 8.04, 1.8, 0], ['240', -12.75, 3, 0], ['240', 8.04, 2.89, 0],
  ['250', -12.75, 4.18, 0], ['250', 8.04, 4.07, 0], ['260', -12.75, 5.68, 0], ['260', 8.04, 5.64, 0], ['270', -12.75, 7.74, 0], ['270', 8.04, 7.78, 0],
  ['272', -12.75, 8.27, 0], ['272', 8.04, 8.33, 0], ['274', -12.75, 8.84, 0], ['274', 8.04, 8.88, 0], ['276', -12.75, 9.43, 0], ['276', 8.04, 9.43, 0],
  ['278', -12.75, 10.01, 0], ['278', 8.04, 9.93, 0], ['280', -12.75, 10.94, 0], ['280', 8.04, 10.84, -3], ['282', -12.75, 11.98, 0], ['282', 8.04, 11.88, -8],
  ['284', -12.7, 12.92, 0], ['284', 8.04, 13.07, -13], ['286', -12.6, 13.85, 0], ['286', 7.5, 14.73, -35], ['288', -12, 15.64, 3], ['288', 6.96, 17.86, -30],
  ['290', -11.5, 17.78, 8], ['290', 3.8, 21.99, -20], ['292', -11.47, 20.45, 20], ['292', 6.96, 23.81, -15], ['294', -14.36, 24.73, -90], ['290', -10.98, 30.5, -25],
  ['292', -8.98, 31.18, -20], ['294', -5.53, 31.53, -20], ['294', 10.26, 24.3, -55], ['296', 13.1, 23.18, -70],
];

// wind vectors: columns of the quiver grid, rows follow the levels
const windColsA = [0.5, 2.5, 4.5, 6.5, 8.5, 10.5, 12.5, 14.5, 16.5, 18.5, 20.5, 22.5, 24.5];
const windUA = [
  [-10.5, -10.5, -10.5, -10.3, -10, -9.8, -9.5, -9.2, -9, -8.6, -8, -7.4, -7],
  [-10.8, -10.8, -10.8, -10.7, -10.4, -10.2, -10, -9.8, -9.3, -8.5, -7.8, -7.1, -6.4],
  [-10.5, -10.5, -10.5, -10.2, -10, -9.8, -9.3, -8.8, -8.6, -8, -7.5, -6.8, -5.9],
  [-8, -8.2, -8.2, -8.2, -8, -7.8, -7.3, -6.9, -6.9, -6.5, -6.1, -5.9, -5.7],
  [-6.8, -6.8, -6.7, -6.7, -6.5, -6.3, -6.1, -5.9, -5.9, -5.7, -5.6, -5.4, -5.4],
  [-6, -6, -6, -5.8, -5.8, -5.8, -5.6, -5.4, -5.4, -5.2, -5.1, -4.9, -4.9],
  [-4.7, -4.7, -5, -5, -5, -4.9, -4.9, -4.6, -4.5, -4.5, -4.5, -4.3, -4.1],
  [-4.7, -4.7, -4.5, -4.5, -4.3, -4.3, -4.2, -4.1, -3.9, -3.8, -3.6, -3.4, -3.2],
  [-4.7, -4.7, -4.7, -4.7, -4.5, -4.4, -4.2, -3.7, -3.7, -3.6, -3.4, -3.1, -2.7],
  [-4.7, -4.7, -5.7, -5.8, -5.6, -5.4, -5.1, -4.7, -4.5, -4.5, -4, -3.6, -3],
  [-7, -7, -7.1, -7.2, -7.2, -7, -6.6, -6.6, -6.4, -6, -5.5, -4.9, -4.6],
  [-7, -7, -7.1, -7.4, -7.3, -7.5, -7.6, -7.9, -7.9, -7.4, -6.8, -6.1, -6.1],
  [-5.9, -5.9, -5.8, -5.8, -6.6, -6.6, -6.6, -6.6, -6.7, -6.5, -6.3, -6.3, -5.9],
  [-4.7, -4.7, -4.9, -4.7, -4.5, -4.4, -4.6, -4.9, -4.9, -5, -5, -4.9, -4.9],
  [-3.9, -3.9, -3.7, -3.5, -3.1, -2.9, -2.7, -2.5, -2.7, -2.8, -3.3, -3.6, -3.4],
  [-0.9, -2.7, -2.5, -2.3, -1.8, -1.4, -0.8, -0.1, -0.4, -0.8, -1.4, -1.7, -1.9],
  [-1, -1.6, -1.3, -1.1, -0.6, -0.2, 1.1, 1.9, 1.7, 1.1, 0.1, 0.1, -0.3],
  [-0.9, -0.6, -0.3, -0.1, -0.1, 0.6, 2.5, 3.2, 3.2, 2.6, 1.8, 1.1, 0.7],
  [-0.6, -0.15, 0.3, 0.5, 0.4, 1.5, 3.5, 4.6, 4.2, 3.4, 2.4, 1.7, 1],
  [-0.9, -0.2, 0.5, 1, 1.2, 2.3, 3.7, 4.5, 4.3, 3, 2.3, 1.7, 1],
  [-0.9, -0.5, 0.4, 1, 1.5, 2.5, 0, 0, 3, 2.2, 1.6, 0, 0],
  [0.3, -0.6, 0.2, 1, 1.5, 0, 0, 0, 0, 0, 0, 0, 0],
];
const windVA = [
  [0.2, 0.2, 0.2, 0.2, 0.2, 0.2, 0.2, 0.2, 0.2, 0.2, 0.2, 0.2, 0.2],
  [0.3, 0.3, 0.3, 0.3, 0.3, 0.3, 0.3, 0.3, 0.3, 0.3, 0.2, 0.2, 0.1],
  [0.3, 0.3, 0.3, 0.3, 0.3, 0.3, 0.3, 0.3, 0.4, 0.4, 0.4, 0.3, 0.3],
  [-0.2, 0.3, 0.3, 0.3, 0.3, 0.3, 0.3, 0.3, 0.4, 0.4, 0.4, 0.4, 0.4],
  [0.3, 0.3, 0.3, 0.3, 0.3, 0.3, 0.3, 0.3, 0.4, 0.4, 0.3, 0.3, 0.3],
  [0.3, 0.3, 0.3, 0.3, 0.3, 0.3, 0.3, 0.3, 0.3, 0.3, 0.3, 0.3, 0.3],
  [0.3, 0.3, 0.3, 0.3, 0.3, 0.3, 0.3, 0.3, 0.2, 0.2, 0.1, 0.1, 0.1],
  [0.3, 0.3, 0.3, 0.3, 0.3, 0.3, 0.3, 0.3, 0.2, 0.2, 0.1, 0.1, 0.1],
  [0.3, 0.3, 0.3, 0.3, 0.3, 0.3, 0.3, 0.3, 0.2, 0.1, 0.1, 0.1, 0],
  [0.3, 0.3, 0.3, 0.3, 0.3, 0.3, 0.2, 0.2, 0.2, 0.3, 0.3, 0.3, 0.4],
  [0.1, 0.2, 0.3, 0.3, 0.3, 0.2, 0.2, 0.3, 0.3, 0.3, 0.3, 0.4, 0.5],
  [0, 0.1, 0.2, 0.3, 0.3, 0.2, 0.2, 0.3, 0.4, 0.4, 0.4, 0.4, 0.4],
  [0.1, 0.1, 0.2, 0.2, 0.3, 0.2, 0.1, 0.2, 0.3, 0.3, 0.3, 0.2, 0.2],
  [0.3, 0.3, 0.3, 0.3, 0.3, 0.2, 0.1, 0.2, 0.2, 0.3, 0.3, 0.2, 0.1],
  [0, 0.1, 0.3, 0.3, 0.3, 0.2, 0.1, 0.1, -0.1, -0.1, -0.1, -0.2, 0],
  [0.3, 0.3, 0.3, 0.3, 0.3, 0.3, 0.1, -0.1, 0.6, 0.2, 0.1, 0.1, 0.1],
  [0.3, 0.6, 0.6, 0.6, 0.6, -0.9, 0.1, 0, 0.4, 0.2, 0, 0, 0.4],
  [-0.5, -0.7, -0.7, -0.6, -0.7, -0.7, 0.1, 0, 0.1, 0, 0, 0, 0.1],
  [-0.6, -0.7, -0.7, -0.6, -0.6, 0, 0.6, 0, 0, 0, 0, 0, 0],
  [-0.6, -0.6, -0.6, -0.5, -0.6, 0.4, 0.9, 0, -0.2, 0.1, 0, 0, 0],
  [-0.4, -0.5, -0.6, -0.3, -0.8, 0.8, 0, 0, -0.2, 0.2, 0, 0, 0],
  [0, -0.3, -0.3, 0, -0.5, 0, 0, 0, 0, 0, 0, 0, 0],
];
const windColsB = [-15, -13, -11, -9, -7, -5, -3, -1, 1, 3, 5, 7, 9, 11, 13, 15];
const windUB = [
  [-4, -4.2, -4.3, -4.3, -4.3, -4.3, -4.3, -4, -3, -1, 0, 0, 0, 0, 0, 0],
  [-5.5, -5.5, -5.5, -5.5, -5.5, -5.5, -6, -6, -5.4, -5.1, -4.2, -0.8, -0.2, 0.4, 1.2, 0],
  [-5, -5, -5, -5, -5, -5, -5.2, -5.4, -5.4, -4.7, -3.7, -1.6, -0.5, 0.1, 0.8, 0],
  [0, -0.45, -0.45, -0.45, -0.5, -0.8, -1.2, -1.7, -2.3, -2.4, -2.1, -0.9, -0.3, 0, 0.2, 0],
  [0.1, 0.7, 1, 1.2, 1, 1, 1.1, 0.6, 0, -0.5, -0.5, -0.4, -0.3, -0.2, -0.2, -0.3],
  [0, 0.1, 0.3, 0.5, 0.6, 0.6, 0.45, 0.3, 0, -0.2, -0.1, -0.3, -0.3, -0.4, -0.45, -0.7],
  [0, -0.3, -0.25, -0.25, -0.3, -0.45, -0.6, -0.9, -0.95, -0.75, -0.45, -0.45, -0.6, -0.8, -0.95, -1.1],
  [0, -0.5, -0.4, -0.4, -0.5, -0.6, -1, -1.1, -1.2, -1, -0.65, -0.8, -1, -1.4, -1.7, -1.9],
  [0, -0.8, -0.6, -0.65, -0.6, -0.65, -0.9, -0.9, -0.95, -0.75, -0.65, -0.9, -1.7, -2, -2.5, -2.8],
  [0, -1.4, -0.95, -0.6, -0.6, -0.6, -0.3, -0.3, -0.1, -0.1, -0.1, -0.8, -1.7, -2.2, -2.7, -3],
  [0, -2, -1.4, -0.7, -0.3, 0, 0.35, 0.5, 0.45, 0.3, -0.1, -0.7, -1.7, -2.2, -2.7, -3],
  [0, -1.9, -1.2, -0.5, 0.3, 0.8, 1.1, 1.15, 0.8, 0.4, -0.1, -0.7, -1.7, -2.5, -2.9, -2.8],
  [0, -0.6, -0.15, 0.3, 0.95, 1, 0.95, 0.6, 0.5, 0.2, -0.1, -0.6, -1.5, -2.5, -2.9, -2.5],
  [0, 0.2, 0.5, 0.75, 1, 1.2, 0.8, 0.2, 0, 0, 0, -0.1, -1.1, -2.3, -2.4, -2.4],
  [0.6, 1.1, 1.5, 1.7, 1.7, 1.2, 0.25, -0.2, -0.5, -0.1, 0, -0.15, -0.6, -1.9, -2.3, -2],
  [1.5, 2, 2.1, 2.1, 1.8, 0.9, -0.3, -0.4, -0.55, -0.1, 0, 0, 0, -1.1, -1.65, -1.5],
  [2.2, 2.4, 2.4, 2.1, 1.3, 0.15, -0.5, -0.2, 0, 0, 0.45, 0.5, 0.9, 0, -0.75, -0.9],
  [2.7, 2.6, 2.2, 1.5, 0.5, -0.45, -0.4, 0.3, 0.5, 0.2, 1, 0.85, 1.8, 1, 0.3, 0],
  [3.1, 2.6, 2.15, 1.3, 0.4, -0.15, 0.9, 1.2, 1.2, 0.7, 1.5, 1.1, 2.5, 2.4, 1.4, 0],
  [3.7, 3, 2.4, 1.9, 1.6, 1.4, 2.3, 2.1, 1.65, 1.1, 1.5, 1.3, 3.1, 3.3, 2.6, 0],
  [4.6, 3.8, 3.1, 2.9, 3, 3, 3.4, 2.4, 1.4, 1, 0, 0, 0, 0, 3, 0],
  [5.2, 4.2, 3.9, 3.8, 4, 3.9, 0, 0, 0, 0, 0, 0, 0, 0, 0, 0],
  [0, 1.8, 1, 1, 1, 0, 0, 0, 0, 0, 0, 0, 0, 0, 0, 0],
];
const windVB = [
  [0.2, 0.2, 0.2, 0.2, 0.2, 0.2, 0.2, 0.2, 0.2, 0.2, 0, 0, 0, 0, 0, 0],
  [0.3, 0.3, 0.3, 0.3, 0.3, 0.3, 0.3, 0.3, 0.3, 0.3, 0.4, 0, 0.3, 0.8, 0.3, 0],
  [0.3, 0.3, 0.3, 0.3, 0.3, 0.3, 0.3, 0.3, 0.3, 0.6, 0.8, 1.3, 0.6, 0.8, 0.3, 0],
  [0, -0.5, -0.5, -0.5, -0.5, -0.5, -0.4, -0.2, 0.4, 0.8, 1.3, 1.8, 0.7, 0.9, 0.4, 0],
  [-0.6, -0.6, -0.5, -0.4, -0.3, -0.35, -0.4, -0.3, 0, 0.8, 1.3, 2, 0.7, 0.8, 0.3, -0.1],
  [0, -0.5, -0.5, -0.5, -0.5, -0.5, -0.5, -0.4, 0, 0.6, 1.2, 2.1, 0.7, 0.9, 0.25, -0.1],
  [0, -0.45, -0.45, -0.45, -0.45, -0.45, -0.5, -0.3, 0, 0.5, 1, 1.9, 0.7, 0.9, 0.4, 0],
  [0, -0.55, -0.55, -0.55, -0.55, -0.55, -0.55, -0.3, 0, 0.6, 0.9, 1.8, 0.6, 0.9, 0.4, 0],
  [0, -0.3, -0.5, -0.5, -0.5, -0.5, -0.55, -0.25, 0, 0.7, 1, 1.7, 0.6, 0.9, 0.6, 0.3],
  [0, -0.5, -0.5, -0.6, -0.6, -0.6, -0.3, 0, 0.2, 0.9, 0.9, 1.6, 0.6, 0.9, 0.7, 0.4],
  [0, -0.6, -0.6, -0.6, -0.6, -0.55, -0.3, 0, 0.4, 0.9, 1.2, 1.2, 0.6, 0.8, 0.7, 0.4],
  [0, -1, -0.8, -0.7, -0.6, -0.4, -0.25, 0, 0.3, 0.8, 0.6, 0.9, 0.35, 0.7, 0.7, 0.7],
  [0, -1.1, -0.9, -0.7, -0.5, -0.4, -0.4, 0, 0.2, 0.7, 0.9, 0.9, 0.15, 0.6, 0.8, 0.9],
  [0, -1.1, -0.8, -0.6, -0.5, -0.4, -0.5, 0, 0, 0.7, 0, 0, 0, 0.6, 0.3, 1.1],
  [-1.2, -1, -0.75, -0.5, -0.4, -0.35, -0.7, -0.2, 0.3, 0.8, 0, 0.9, -0.3, 0.45, 0.8, 1.3],
  [-1.2, -0.9, -0.65, -0.45, -0.4, -0.55, -0.8, -0.15, 0.45, 0.8, 0, 0.8, -0.5, 0.2, 0.65, 1.4],
  [-0.85, -0.7, -0.6, -0.45, -0.45, -0.6, -0.75, -0.1, 0.6, 0.9, 0.3, 0.4, -0.7, 0, 0.5, 1.2],
  [-0.55, -0.5, -0.5, -0.4, -0.5, -0.65, -0.45, 0, 0.85, 1, 0.75, 0.15, -0.55, -0.45, 0.4, 0.5],
  [-0.2, -0.25, -0.45, -0.5, -0.6, -0.5, 0.15, 0.2, 1, 1, 1, 0, -0.2, -0.85, 0.25, 0],
  [0, -0.15, -0.35, -0.5, -0.5, -0.1, 0.55, 0.15, 1.15, 1.15, 1, -0.2, 0, -1, 0.15, 0],
  [0.3, 0, -0.2, -0.45, -0.25, 0.3, 0.9, 0.3, 0.9, 0.9, 0, 0, 0, 0, 0, 0],
  [0.45, -0.05, -0.15, -0.15, 0, 0.6, 0, 0, 0, 0, 0, 0, 0, 0, 0, 0],
  [0, 0.4, 0.1, 0, 0, 0, 0, 0, 0, 0, 0, 0, 0, 0, 0, 0],
];

const toPoints = (flat: number[]) => {
  const out: { x: number; y: number }[] = [];
  for (let i = 0; i < flat.length; i += 2) out.push({ x: flat[i], y: flat[i + 1] });
  return out;
};
const windPoints = (cols: number[], us: number[][], vs: number[][]) =>
  us.flatMap((row, i) => row.map((u, j) => ({ x: cols[j], y: levelPos[i], u, v: vs[i][j] })));

// d3-style curve so the contour runs round off their corners without overshoot
const smoothCurve = (context: any) => {
  let pts: number[][] = [];
  const handle = (a: number[], b: number[], seg: number) => {
    const dx = b[0] - a[0];
    const dy = b[1] - a[1];
    const d = Math.hypot(dx, dy) || 1;
    const k = Math.min(d * 0.16, seg * 0.4) / d;
    return [dx * k, dy * k];
  };
  return {
    lineStart() {
      pts = [];
    },
    point(x: number, y: number) {
      pts.push([+x, +y]);
    },
    lineEnd() {
      if (!pts.length) return;
      context.moveTo(pts[0][0], pts[0][1]);
      for (let i = 0; i < pts.length - 1; i++) {
        const p1 = pts[i];
        const p2 = pts[i + 1];
        const seg = Math.hypot(p2[0] - p1[0], p2[1] - p1[1]);
        const t1 = handle(pts[i - 1] || p1, p2, seg);
        const t2 = handle(p1, pts[i + 2] || p2, seg);
        context.bezierCurveTo(p1[0] + t1[0], p1[1] + t1[1], p2[0] - t2[0], p2[1] - t2[1], p2[0], p2[1]);
      }
    },
  };
};

function Arrow(props: any) {
  const { cx, cy, payload } = props;
  const dx = payload.u * 10;
  const dy = -payload.v * 10;
  const len = Math.hypot(dx, dy);
  if (len === 0 || cx == null) return null;
  const tipX = cx + dx;
  const tipY = cy + dy;
  const ang = Math.atan2(dy, dx);
  const barb = len * 0.38;
  const a1 = ang + Math.PI - 0.34;
  const a2 = ang + Math.PI + 0.34;
  return (
    <path
      d={`M${cx} ${cy}L${tipX} ${tipY}M${tipX + barb * Math.cos(a1)} ${tipY + barb * Math.sin(a1)}L${tipX} ${tipY}L${tipX + barb * Math.cos(a2)} ${tipY + barb * Math.sin(a2)}`}
      fill="none"
      stroke="#000"
      strokeWidth={0.9}
    />
  );
}

function ContourLabel(props: any) {
  const { cx, cy, payload } = props;
  if (cx == null) return null;
  return (
    <text x={cx} y={cy} textAnchor="middle" dominantBaseline="central" fontSize={14} fill="#111" transform={`rotate(${payload.angle} ${cx} ${cy})`}>
      {payload.text}
    </text>
  );
}

interface PanelProps {
  left: number;
  top: number;
  plotWidth: number;
  xDomain: [number, number];
  xTicks: number[];
  xTitle: string;
  yTitle?: string;
  heat: number[][];
  thin: number[][];
  thick?: number[][];
  labels: [string, number, number, number][];
  terrainX: number[];
  terrainY: number[];
  wind?: { x: number; y: number; u: number; v: number }[];
}

function Panel({ left, top, plotWidth, xDomain, xTicks, xTitle, yTitle, heat, thin, thick = [], labels, terrainX, terrainY, wind }: PanelProps) {
  const axisWidth = yTitle ? 98 : 70;
  const terrain = terrainX.map((x, i) => ({ x, y: terrainY[i] }));
  const labelData = labels.map(([text, x, y, angle]) => ({ text, x, y, angle }));
  return (
    <div style={{ position: 'absolute', left: left - axisWidth, top: top - 20 }}>
      <ComposedChart width={axisWidth + plotWidth + 20} height={20 + 761 + 64} data={terrain} margin={{ top: 20, right: 20, bottom: 0, left: 0 }}>
        <XAxis
          type="number"
          dataKey="x"
          domain={xDomain}
          ticks={xTicks}
          interval={0}
          allowDataOverflow
          height={64}
          tickSize={-3}
          tickMargin={13}
          stroke="#555"
          tick={{ fill: '#262626', fontSize: 22 }}
          label={{ value: xTitle, position: 'insideBottom', offset: 10, dx: -7, fill: '#262626', fontSize: 23 }}
        />
        <YAxis
          type="number"
          dataKey="y"
          domain={[0, 32]}
          reversed
          ticks={levelPos}
          interval={0}
          allowDataOverflow
          width={axisWidth}
          tickSize={-3}
          tickMargin={14}
          stroke="#555"
          tick={{ fill: '#262626', fontSize: 22 }}
          tickFormatter={(v: number) => String(levels[levelPos.indexOf(v)])}
          label={yTitle ? { value: yTitle, angle: -90, position: 'insideLeft', offset: 18, dy: 50, fill: '#262626', fontSize: 23 } : undefined}
        />
        {heat.flatMap((row, r) => {
          const cells = [];
          let from = xDomain[0];
          for (let i = 0; i < row.length; i += 2) {
            cells.push(
              <ReferenceArea
                key={`${r}-${i}`}
                x1={from}
                x2={row[i]}
                y1={levelPos[r]}
                y2={levelPos[r + 1]}
                fill={palette[row[i + 1]]}
                fillOpacity={1}
                stroke="none"
                shapeRendering="crispEdges"
              />,
            );
            from = row[i];
          }
          return cells;
        })}
        {wind && <Scatter data={wind} shape={Arrow} isAnimationActive={false} legendType="none" />}
        <Area data={terrain} dataKey="y" baseValue={32} type="linear" fill="#000" fillOpacity={1} stroke="#000" strokeWidth={1} dot={false} activeDot={false} isAnimationActive={false} />
        {thin.map((run, i) => (
          <Line key={`thin-${i}`} data={toPoints(run)} dataKey="y" type={smoothCurve as any} stroke="#f00" strokeWidth={1} dot={false} activeDot={false} isAnimationActive={false} />
        ))}
        {thick.map((run, i) => (
          <Line key={`thick-${i}`} data={toPoints(run)} dataKey="y" type={smoothCurve as any} stroke="#f00" strokeWidth={3.4} dot={false} activeDot={false} isAnimationActive={false} />
        ))}
        <Scatter data={labelData} shape={ContourLabel} isAnimationActive={false} legendType="none" />
        <ReferenceArea x1={xDomain[0]} x2={xDomain[1]} y1={0} y2={32} fill="none" stroke="#999" strokeWidth={0.8} />
      </ComposedChart>
    </div>
  );
}

function ColorBar({ top, labels, labelX }: { top: number; labels: string[]; labelX: number }) {
  const ticks = labels.map((_, i) => i);
  return (
    <div style={{ position: 'absolute', left: 1154, top: top - 20 }}>
      <ComposedChart width={112} height={801} data={[{ x: 0, y: 0 }]} margin={{ top: 20, right: 0, bottom: 20, left: 0 }}>
        <XAxis type="number" dataKey="x" domain={[0, 1]} hide />
        <YAxis
          type="number"
          dataKey="y"
          orientation="right"
          domain={[0, 10]}
          ticks={ticks}
          interval={0}
          width={86}
          tickSize={-4}
          tickMargin={8}
          stroke="#444"
          tick={(p: any) => (
            <text x={labelX} y={p.y} textAnchor="middle" dominantBaseline="central" fontSize={22.5} fill="#262626">
              {labels[p.payload.value]}
            </text>
          )}
        />
        {palette.map((c, i) => (
          <ReferenceArea key={c} x1={0} x2={1} y1={i} y2={i + 1} fill={c} fillOpacity={1} stroke="none" shapeRendering="crispEdges" />
        ))}
        <ReferenceArea x1={0} x2={1} y1={0} y2={10} fill="none" stroke="#444" strokeWidth={1.2} />
      </ComposedChart>
    </div>
  );
}

const titleStyle = { position: 'absolute', fontWeight: 700, fontSize: 23.3, lineHeight: '24px', whiteSpace: 'nowrap', color: '#111' } as const;

export default function App() {
  return (
    <div style={{ position: 'absolute', left: 0, top: 0, width: 1267, height: 1794, background: '#fff', fontFamily: FONT, overflow: 'hidden' }}>
      <div style={{ ...titleStyle, left: 208, top: 8 }}>(a) JJAS [0-4S] Wind</div>
      <div style={{ ...titleStyle, left: 739, top: 8 }}>(b) JJAS [9E-13E] Wind</div>
      <div style={{ ...titleStyle, left: 124, top: 938 }}>(c) JJAS [0-4S] Temp. &amp; Rel. Hum</div>
      <div style={{ ...titleStyle, left: 650, top: 938 }}>(d) JJAS [9E-13E] Temp. &amp; Rel. Hum.</div>
      <Panel left={98} top={40} plotWidth={482} xDomain={[0, 25]} xTicks={lonTicks} xTitle="Longitudes" yTitle="Altitudes" heat={heatA} thin={thinA} thick={thickA} labels={labelsA} terrainX={terrainLonX} terrainY={terrainLonY} wind={windPoints(windColsA, windUA, windVA)} />
      <Panel left={644} top={40} plotWidth={484} xDomain={[-15, 15]} xTicks={latTicks} xTitle="Latitudes" heat={heatB} thin={thinB} thick={thickB} labels={labelsB} terrainX={terrainLatX} terrainY={terrainLatY} wind={windPoints(windColsB, windUB, windVB)} />
      <Panel left={98} top={969} plotWidth={482} xDomain={[0, 25]} xTicks={lonTicks} xTitle="Longitudes" yTitle="Altitudes" heat={heatC} thin={thinC} labels={labelsC} terrainX={terrainLonX} terrainY={terrainLonY} />
      <Panel left={644} top={969} plotWidth={484} xDomain={[-15, 15]} xTicks={latTicks} xTitle="Latitudes" heat={heatD} thin={thinD} labels={labelsD} terrainX={terrainLatX} terrainY={terrainLatY} />
      <ColorBar top={40} labels={windBarLabels} labelX={72} />
      <ColorBar top={969} labels={humBarLabels} labelX={56} />
    </div>
  );
}
